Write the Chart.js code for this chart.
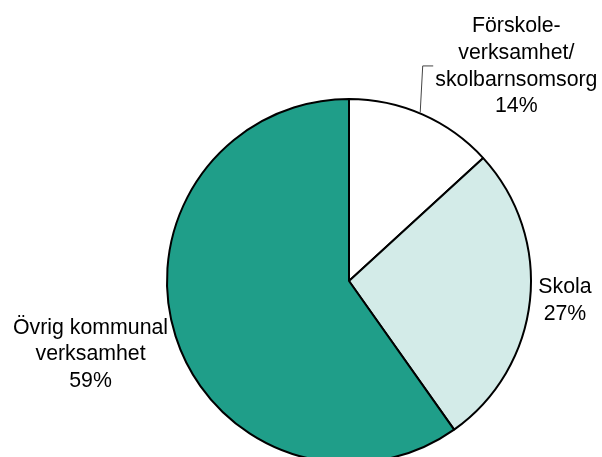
<!DOCTYPE html>
<html>
<head>
<meta charset="utf-8">
<script src="https://cdn.jsdelivr.net/npm/chart.js@4.4.0/dist/chart.umd.min.js"></script>
<style>
  html, body { margin: 0; padding: 0; background: #fff; overflow: hidden; }
  #wrap { width: 602px; height: 600px; }
</style>
</head>
<body>
<div id="wrap"><canvas id="chartPie"></canvas></div>
<script>
// data
var kategorier = [["Förskole-", "verksamhet/", "skolbarnsomsorg"], ["Skola"], ["Övrig kommunal", "verksamhet"]];
var andelar = [13.2, 27.0, 59.8];      // slice sizes as drawn
var procentText = [14, 27, 59];        // percentages printed in the labels
var farger = ["#ffffff", "#d3ebe8", "#1f9e89"];

// label placement relative to slice edge point: dx, dy to (center x, first baseline)
var etikettOffset = [[94, -82], [35, -7], [-85, -2.5]];

var etiketter = {
    id: "etiketter",
    afterDraw: function (chart) {
        var ctx = chart.ctx;
        var meta = chart.getDatasetMeta(0);
        ctx.save();
        ctx.font = "21.3px 'Liberation Sans', Arial, sans-serif";
        ctx.fillStyle = "#000";
        ctx.textAlign = "center";
        ctx.textBaseline = "alphabetic";
        meta.data.forEach(function (arc, i) {
            var p = arc.getProps(["x", "y", "startAngle", "endAngle", "outerRadius"], true);
            var mid = (p.startAngle + p.endAngle) / 2;
            var ex = p.x + Math.cos(mid) * p.outerRadius;
            var ey = p.y + Math.sin(mid) * p.outerRadius;
            var cx = ex + etikettOffset[i][0];
            var by = ey + etikettOffset[i][1];
            var rader = kategorier[i].concat([procentText[i] + "%"]);
            rader.forEach(function (t, k) {
                ctx.fillText(t, cx, by + k * 26.6);
            });
            // leader line for the small slice
            if (i === 0) {
                var a = mid - 0.015;
                var sx = p.x + Math.cos(a) * (p.outerRadius + 1);
                var sy = p.y + Math.sin(a) * (p.outerRadius + 1);
                ctx.beginPath();
                ctx.strokeStyle = "#444";
                ctx.lineWidth = 1;
                ctx.moveTo(sx, sy);
                ctx.lineTo(sx + 2.5, by + 33.5);
                ctx.lineTo(sx + 13, by + 33.5);
                ctx.stroke();
            }
        });
        ctx.restore();
    }
};

var ctx = document.getElementById("chartPie").getContext("2d");
var myChart = new Chart(ctx, {
    type: "pie",
    data: {
        labels: kategorier.map(function (k) { return k.join(" "); }),
        datasets: [{
            data: andelar,
            backgroundColor: farger,
            borderColor: "#000",
            borderWidth: 2
        }]
    },
    options: {
        responsive: true,
        maintainAspectRatio: false,
        animation: false,
        events: [],
        layout: {
            padding: { left: 166, right: 70, top: 98, bottom: 136 }
        },
        plugins: {
            legend: { display: false },
            tooltip: { enabled: false }
        }
    },
    plugins: [etiketter]
});
</script>
</body>
</html>
